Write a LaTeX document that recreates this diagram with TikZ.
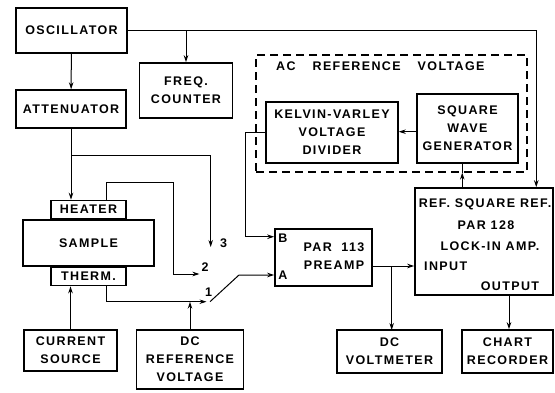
\documentclass[tikz,border=0pt]{standalone}
\usepackage{fontspec}
\usepackage{tikz}
\usetikzlibrary{arrows.meta,positioning,calc}
\newfontfamily\blockfont[LetterSpace=11]{Liberation Sans}

\begin{document}
\begin{tikzpicture}[x=1pt, y=-1pt,
    lbl/.style={font={\blockfont\bfseries\fontsize{12.5}{18}\selectfont}, inner sep=0pt, align=center},
    box/.style={rectangle, draw, line width=1.5pt, inner sep=1pt, lbl},
    arrow/.style={-{Stealth[length=7pt,width=4.5pt]}, line width=1pt},
    wire/.style={line width=1pt}]
  \useasboundingbox (0,0) rectangle (555,392);
  % blocks
  \node[box, minimum width=111pt, minimum height=45pt] (osc)  at (71.5,30.5) {OSCILLATOR};
  \node[box, minimum width=110pt, minimum height=38pt] (att)  at (71,109) {ATTENUATOR};
  \node[box, minimum width=93pt,  minimum height=55pt] (freq) at (186,90.5) {FREQ.\\COUNTER};
  \node[rectangle, draw, dashed, dash pattern=on 8pt off 5pt, line width=1.2pt,
        minimum width=271pt, minimum height=117pt] (acbox) at (391.5,113.5) {};
  \node[lbl, anchor=west] (actext) at (276,66) {AC\hspace{17pt}REFERENCE\hspace{17pt}VOLTAGE};
  \node[box, minimum width=132pt, minimum height=61pt] (kv)  at (332,132.5) {KELVIN-VARLEY\\VOLTAGE\\DIVIDER};
  \node[box, minimum width=101pt, minimum height=69pt] (swg) at (467.5,128.5) {SQUARE\\WAVE\\GENERATOR};
  \node[box, minimum width=131pt, minimum height=46pt] (sample) at (88.5,243) {SAMPLE};
  \node[box, minimum width=75pt, minimum height=18pt, anchor=south] (heater) at (sample.north) {HEATER};
  \node[box, minimum width=75pt, minimum height=18pt, anchor=north] (therm)  at (sample.south) {THERM.};
  \node[box, minimum width=93pt,  minimum height=41pt] (cur)   at (70.5,350.5) {CURRENT\\SOURCE};
  \node[box, minimum width=107pt, minimum height=59pt] (dcref) at (190,359.5) {DC\\REFERENCE\\VOLTAGE};
  \node[box, minimum width=97pt,  minimum height=57pt] (pre)   at (323.5,257.5) {};
  \node[lbl] (pretext) at (334,256) {PAR~ 113\\PREAMP};
  \node[lbl, anchor=west] (labB) at ($(pre.west)+(4,-19)$) {B};
  \node[lbl, anchor=west] (labA) at ($(pre.west)+(4,18)$) {A};
  \node[box, minimum width=138pt, minimum height=107pt] (lockin) at (484,241.5) {};
  \node[lbl] (refsq) at (485,204) {REF. SQUARE REF.};
  \node[lbl] (par)   at (486,225) {PAR 128};
  \node[lbl] (lia)   at (490,246.5) {LOCK-IN AMP.};
  \node[lbl, anchor=west] (inlbl)  at (424,266) {INPUT};
  \node[lbl] (outlbl) at (510,286) {OUTPUT};
  \node[box, minimum width=105pt, minimum height=43pt] (dcvm)  at (389.5,351.5) {DC\\VOLTMETER};
  \node[box, minimum width=91pt,  minimum height=43pt] (chart) at (507.5,351.5) {CHART\\RECORDER};
  % switch contacts
  \coordinate (c3) at (210.7,247);
  \coordinate (c2) at (199.5,274);
  \coordinate (c1) at (206.5,301.7);
  \coordinate (sw1) at (210,301.7);
  \coordinate (sw2) at (239,275);
  \coordinate (inA) at (pre.west |- sw2);
  \coordinate (inB) at ($(pre.north west)+(0,8.5)$);
  \coordinate (inp) at ($(lockin.west)+(0,24.5)$);
  \coordinate (refA) at ($(lockin.north west)+(48,0)$);
  \coordinate (refB) at ($(lockin.north west)+(122,0)$);
  \node[lbl] (n3) at (223.5,243) {3};
  \node[lbl] (n2) at (205,267.5) {2};
  \node[lbl] (n1) at (208.5,292) {1};
  % connectors
  \draw[arrow] (osc) -- (att);
  \draw[arrow] (osc.east) -| (refB);
  \draw[arrow] (osc.east -| freq.north) -- (freq.north);
  \draw[arrow] (att) -- (att |- heater.north);
  \draw[arrow] ($(att.south)+(0,27)$) -| (c3);
  \draw[arrow] ($(heater.north)+(17.5,0)$) |- (173,182) |- (c2);
  \draw[arrow] ($(therm.south)+(17.5,0)$) |- (c1);
  \draw[arrow] (cur) -- (cur |- therm.south);
  \draw[arrow] (dcref) -- (dcref |- c1);
  \draw[arrow] (sw1) -- (sw2) -- (inA);
  \draw[arrow] (kv.west) -- ++(-20,0) |- (inB);
  \draw[arrow] (swg.west |- 0,131.7) -- (kv.east |- 0,131.7);
  \draw[arrow] (refA) -- (refA |- acbox.south);
  \draw[wire] (refA |- acbox.south) -- (refA |- swg.south);
  \draw[arrow] (pre.east |- inp) -- (inp);
  \draw[arrow] (391.7,266) -- (391.7,330);
  \draw[arrow] (lockin.south -| 509,0) -- (chart.north -| 509,0);
\end{tikzpicture}
\end{document}
